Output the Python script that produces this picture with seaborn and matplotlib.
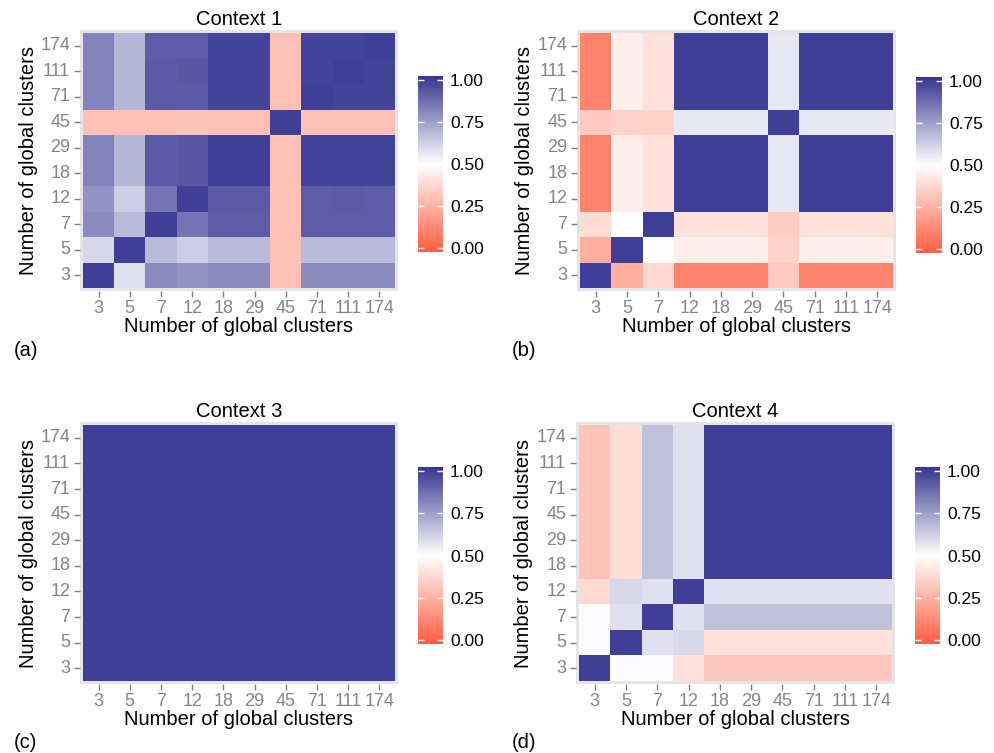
import numpy as np
import pandas as pd
import matplotlib
matplotlib.use("Agg")
import matplotlib.pyplot as plt
import seaborn as sns
from matplotlib.colors import LinearSegmentedColormap

clusters = [3, 5, 7, 12, 18, 29, 45, 71, 111, 174]

# each list is one row, from 3 (bottom) up to 174 (top); columns go 3 .. 174
context1 = [
    [1.00, 0.59, 0.80, 0.78, 0.80, 0.80, 0.30, 0.80, 0.80, 0.80],
    [0.60, 1.00, 0.68, 0.63, 0.68, 0.68, 0.30, 0.68, 0.68, 0.68],
    [0.80, 0.68, 1.00, 0.86, 0.92, 0.92, 0.30, 0.92, 0.92, 0.92],
    [0.78, 0.63, 0.86, 1.00, 0.93, 0.93, 0.30, 0.92, 0.93, 0.92],
    [0.82, 0.69, 0.93, 0.94, 1.00, 1.00, 0.30, 0.99, 0.99, 0.99],
    [0.82, 0.69, 0.93, 0.94, 1.00, 1.00, 0.30, 0.99, 0.99, 0.99],
    [0.30, 0.30, 0.30, 0.31, 0.30, 0.30, 1.00, 0.30, 0.30, 0.30],
    [0.82, 0.69, 0.93, 0.93, 0.99, 0.99, 0.30, 1.00, 0.99, 0.99],
    [0.82, 0.69, 0.93, 0.94, 0.99, 0.99, 0.30, 0.99, 1.00, 0.99],
    [0.82, 0.69, 0.92, 0.92, 0.99, 0.99, 0.30, 0.99, 0.99, 1.00],
]
context2 = [
    [1.00, 0.24, 0.38, 0.10, 0.10, 0.10, 0.33, 0.10, 0.10, 0.10],
    [0.24, 1.00, 0.50, 0.45, 0.45, 0.45, 0.36, 0.45, 0.45, 0.45],
    [0.39, 0.50, 1.00, 0.40, 0.40, 0.40, 0.34, 0.40, 0.40, 0.40],
    [0.10, 0.45, 0.40, 1.00, 1.00, 1.00, 0.56, 1.00, 1.00, 1.00],
    [0.10, 0.45, 0.40, 1.00, 1.00, 1.00, 0.56, 1.00, 1.00, 1.00],
    [0.10, 0.45, 0.40, 1.00, 1.00, 1.00, 0.56, 1.00, 1.00, 1.00],
    [0.33, 0.36, 0.35, 0.56, 0.56, 0.56, 1.00, 0.56, 0.56, 0.56],
    [0.10, 0.45, 0.40, 1.00, 1.00, 1.00, 0.56, 1.00, 1.00, 1.00],
    [0.10, 0.45, 0.40, 1.00, 1.00, 1.00, 0.56, 1.00, 1.00, 1.00],
    [0.10, 0.45, 0.40, 1.00, 1.00, 1.00, 0.56, 1.00, 1.00, 1.00],
]
context3 = [[1.00] * 10 for _ in range(10)]
context4 = [
    [1.00, 0.51, 0.51, 0.40, 0.32, 0.32, 0.32, 0.32, 0.32, 0.32],
    [0.51, 1.00, 0.58, 0.60, 0.40, 0.40, 0.40, 0.40, 0.40, 0.40],
    [0.51, 0.58, 1.00, 0.58, 0.66, 0.66, 0.66, 0.66, 0.66, 0.66],
    [0.38, 0.60, 0.58, 1.00, 0.58, 0.58, 0.58, 0.58, 0.58, 0.58],
    [0.31, 0.39, 0.66, 0.58, 1.00, 1.00, 1.00, 1.00, 1.00, 1.00],
    [0.31, 0.39, 0.66, 0.58, 1.00, 1.00, 1.00, 1.00, 1.00, 1.00],
    [0.31, 0.39, 0.66, 0.58, 1.00, 1.00, 1.00, 1.00, 1.00, 1.00],
    [0.31, 0.39, 0.66, 0.58, 1.00, 1.00, 1.00, 1.00, 1.00, 1.00],
    [0.31, 0.39, 0.66, 0.58, 1.00, 1.00, 1.00, 1.00, 1.00, 1.00],
    [0.31, 0.39, 0.66, 0.58, 1.00, 1.00, 1.00, 1.00, 1.00, 1.00],
]
titles = ["Context 1", "Context 2", "Context 3", "Context 4"]
letters = ["(a)", "(b)", "(c)", "(d)"]

plt.rcParams['font.family'] = ['Liberation Sans', 'DejaVu Sans']
cmap = LinearSegmentedColormap.from_list("rwb", ["#FF5D40", "#FFFFFF", "#363692"])

W, H = 994, 753
fig = plt.figure(figsize=(W / 100, H / 100), dpi=100)


def px_axes(left, top, right, bottom):
    return fig.add_axes([left / W, 1 - bottom / H, (right - left) / W, (bottom - top) / H])


# heatmap tile box and colorbar box in pixels: left, top, right, bottom
tile_boxes = [(83, 33, 395, 288), (580, 33, 893, 288), (83, 425, 395, 681), (579, 425, 892, 681)]
cbar_boxes = [(418, 76, 443, 252), (916, 77, 942, 253), (418, 467, 443, 644), (915, 467, 940, 644)]
letter_pos = [(14, 350), (512, 350), (14, 742), (512, 742)]
mx, my = 0.1, 0.1
ext = 0.025  # colour bar runs a little past 0 and 1, like the original

for i, mat in enumerate([context1, context2, context3, context4]):
    l, t, r, b = tile_boxes[i]
    cw = (r - l) / 10
    ch = (b - t) / 10
    ax = px_axes(l - mx * cw, t - my * ch, r + mx * cw, b + my * ch)
    cax = px_axes(*cbar_boxes[i])
    df = pd.DataFrame(mat[::-1], index=clusters[::-1], columns=clusters)
    sns.heatmap(df, ax=ax, cbar_ax=cax, cmap=cmap, vmin=-ext, vmax=1 + ext,
                cbar_kws={"ticks": [0, 0.25, 0.5, 0.75, 1.0], "format": "%.2f"})
    ax.set_facecolor("#E5E5E5")
    ax.set_xlim(-mx, 10 + mx)
    ax.set_ylim(10 + my, -my)
    for s in ax.spines.values():
        s.set_visible(False)
    ax.tick_params(axis='both', length=4.5, width=1, color='#7F7F7F', labelcolor='#858585',
                   labelsize=13, pad=2.5)
    ax.set_yticklabels([str(c) for c in clusters[::-1]], rotation=0)
    ax.set_xticklabels([str(c) for c in clusters], rotation=0)
    ax.set_xlabel("Number of global clusters", fontsize=14.5, labelpad=0)
    ax.set_ylabel("Number of global clusters", fontsize=14.5, labelpad=2)
    ax.set_title(titles[i], fontsize=14.5, pad=4)
    cbar = ax.collections[0].colorbar
    cbar.outline.set_visible(False)
    cax.tick_params(length=4, width=1, color='white', direction='in',
                    left=True, right=True, labelsize=12.5, pad=5)
    fig.text(letter_pos[i][0] / W, 1 - letter_pos[i][1] / H, letters[i],
             fontsize=14.5, va='center', ha='left')

fig.savefig("out.png", dpi=100)
